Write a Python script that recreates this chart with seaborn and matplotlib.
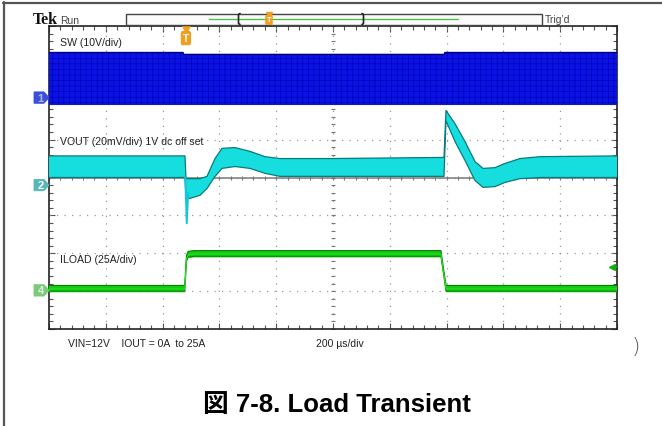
import numpy as np
import pandas as pd
import matplotlib
matplotlib.use("Agg")
import matplotlib.pyplot as plt
import seaborn as sns
from matplotlib.patches import Rectangle, Polygon
import matplotlib.transforms as mtransforms

# ---------------- data (units: screen divisions, 10 x 8 graticule) ----------------
# SW node (ch1): envelope of switching waveform
sw_t = [0.0, 2.36, 2.37, 6.96, 6.97, 10.0]
sw_top = [3.30, 3.30, 3.25, 3.25, 3.30, 3.30]
sw_bot = [1.93, 1.93, 1.93, 1.93, 1.93, 1.93]

# VOUT (ch2): ripple envelope (upper / lower)
vout_t = [0.0, 2.394, 2.412, 2.482, 2.658, 2.782, 2.923, 3.046, 3.275, 3.539,
          3.803, 4.067, 4.947, 6.954, 6.989, 7.148, 7.324, 7.500, 7.641, 7.852,
          8.028, 8.292, 8.644, 10.0]
vout_hi = [0.57, 0.57, -0.03, -0.03, -0.03, 0.03, 0.50, 0.77, 0.79, 0.69,
           0.55, 0.50, 0.50, 0.53, 1.77, 1.42, 0.95, 0.42, 0.24, 0.26,
           0.37, 0.50, 0.55, 0.57]
vout_lo = [0.0, 0.0, -0.55, -0.55, -0.47, -0.29, 0.03, 0.24, 0.29, 0.24,
           0.11, 0.03, 0.03, 0.03, 1.50, 0.95, 0.45, -0.08, -0.26, -0.24,
           -0.13, -0.03, 0.0, 0.0]
spike_t = [2.40, 2.425, 2.45]
spike_v = [0.0, -1.21, -0.40]

# ILOAD (ch4)
iload_t = [0.0, 2.39, 2.42, 2.45, 2.55, 6.90, 6.99, 10.0]
iload_v = [-2.94, -2.94, -2.15, -2.04, -2.02, -2.02, -2.94, -2.94]

ch_labels = ["1", "2", "4"]
ch_offsets = [2.11, -0.20, -2.98]
ch_colors = ["#3a4fe0", "#58b8b8", "#78cc78"]
ch_text_colors = ["#b8b8c8", "#ffffff", "#e8e8e8"]

trace_labels = ["SW (10V/div)", "VOUT (20mV/div) 1V dc off set", "ILOAD (25A/div)"]
trace_label_y = [3.58, 0.97, -2.14]

bottom_left = "VIN=12V    IOUT = 0A  to 25A"
bottom_mid = "200 \u00b5s/div"
title = "\u56f3 7-8. Load Transient"

# ---------------- figure ----------------
sns.set_style("white")
plt.rcParams['font.family'] = ['Liberation Sans', 'Noto Sans CJK JP', 'DejaVu Sans']
plt.rcParams['hatch.linewidth'] = 0.4

W, H = 662, 427
fig = plt.figure(figsize=(W / 100, H / 100), dpi=100)
fig.patch.set_facecolor("white")
ax = fig.add_axes([49 / W, 1 - 330 / H, 568 / W, 303 / H])
ax.set_xlim(0, 10)
ax.set_ylim(-4, 4)
ax.set_facecolor("white")

# graticule
for xv in range(1, 10):
    ax.axvline(xv, color="#9a9a9a", lw=0.9, ls=(0, (1, 5)), zorder=1)
for yv in range(-3, 4):
    ax.axhline(yv, color="#9a9a9a", lw=0.9, ls=(0, (1, 5)), zorder=1)
ax.axhline(0, color="#8c8c8c", lw=1.3, zorder=1.5)
ax.set_xticks(np.arange(0, 10.01, 1))
ax.set_yticks(np.arange(-4, 4.01, 1))
ax.set_xticks(np.arange(0, 10.01, 0.2), minor=True)
ax.set_yticks(np.arange(-4, 4.01, 0.2), minor=True)
ax.tick_params(which="both", direction="in", top=True, right=True, bottom=True, left=True,
               labelbottom=False, labelleft=False, color="#555555", width=0.8)
ax.tick_params(which="major", length=4)
ax.tick_params(which="minor", length=3)
# center crosshair ticks
cx = np.arange(0, 10.01, 0.2)
cy = np.arange(-4, 4.01, 0.2)
ax.scatter(cx, np.zeros_like(cx), marker="|", s=12, color="#777777", lw=0.8, zorder=1.6)
ax.scatter(np.full_like(cy, 5.0), cy, marker="_", s=12, color="#777777", lw=0.8, zorder=1.6)
for s in ax.spines.values():
    s.set_color("#222222")
    s.set_linewidth(1.2)

# SW trace
ax.fill_between(sw_t, sw_bot, sw_top, facecolor="#0a12e4", edgecolor="#0000b0",
                hatch="+++", linewidth=0, zorder=3)
sns.lineplot(x=sw_t, y=sw_top, ax=ax, color="#00007a", lw=1.0, zorder=4)
sns.lineplot(x=sw_t, y=sw_bot, ax=ax, color="#1020a0", lw=0.8, zorder=4)

# VOUT trace
ax.fill_between(vout_t, vout_lo, vout_hi, facecolor="#16dede", edgecolor="none", zorder=3)
sns.lineplot(x=vout_t, y=vout_hi, ax=ax, color="#0a7a7a", lw=0.9, zorder=4)
sns.lineplot(x=vout_t, y=vout_lo, ax=ax, color="#0a7a7a", lw=0.9, zorder=4)
sns.lineplot(x=spike_t, y=spike_v, ax=ax, color="#10c8d8", lw=1.4, zorder=4, sort=False)

# ILOAD trace
il = np.array(iload_v)
ax.fill_between(iload_t, il - 0.09, il + 0.09, facecolor="#12cc12", edgecolor="none", zorder=3)
sns.lineplot(x=iload_t, y=list(il + 0.09), ax=ax, color="#0a7a0a", lw=0.8, zorder=4)
sns.lineplot(x=iload_t, y=list(il - 0.06), ax=ax, color="#0a8a0a", lw=0.8, zorder=4)
sns.lineplot(x=iload_t, y=iload_v, ax=ax, color="#20e020", lw=0.8, zorder=4)

# trace labels
for lab, yv in zip(trace_labels, trace_label_y):
    ax.text(0.2, yv, lab, fontsize=7.6, color="#222222", va="center", ha="left", zorder=5)

# channel markers on the left (pentagon tags)
ptrans = mtransforms.blended_transform_factory(fig.dpi_scale_trans, ax.transData)
for lab, yv, c, tc in zip(ch_labels, ch_offsets, ch_colors, ch_text_colors):
    pts = [(0.34, yv - 0.15), (0.44, yv - 0.15), (0.49, yv), (0.44, yv + 0.15), (0.34, yv + 0.15)]
    ax.add_patch(Polygon(pts, closed=True, fc=c, ec=c, lw=0.6, transform=ptrans,
                         clip_on=False, zorder=6))
    ax.text(0.405, yv, lab, transform=ptrans, fontsize=8, color=tc, ha="center", va="center",
            fontweight="bold", clip_on=False, zorder=7)

# trigger marker at top
ax.plot([2.41], [3.91], marker="v", ms=6, color="#f0a020", clip_on=False, zorder=6)
ax.text(2.41, 3.68, "T", fontsize=7, color="white", fontweight="bold", ha="center", va="center",
        zorder=6, bbox=dict(boxstyle="round,pad=0.15", fc="#f0a020", ec="#f0a020"))
# level arrow at right
ax.plot([9.91], [-2.35], marker="<", ms=4, color="#10b010", zorder=6)
ax.plot([9.91, 10.0], [-2.35, -2.35], color="#10b010", lw=1.2, zorder=6)

# ---------------- overlay for decoration (pixel coordinates) ----------------
ov = fig.add_axes([0, 0, 1, 1], zorder=10)
ov.set_xlim(0, W)
ov.set_ylim(H, 0)
ov.axis("off")
ov.patch.set_alpha(0)
ov.plot([3.5, 3.5], [3, H], color="#555555", lw=1.6)
ov.plot([3, W], [3.5, 3.5], color="#555555", lw=1.6)

ov.text(33, 20, "Tek", fontsize=11.5, fontweight="bold", family="Liberation Serif",
        color="#111111", va="center", ha="left")
ov.text(60, 20.5, "Run", fontsize=7.5, color="#444444", va="center", ha="left")
ov.add_patch(Rectangle((125.5, 14.5), 416, 11, fc="#fbfbfb", ec="#444444", lw=1.0))
ov.plot([209, 458], [19.5, 19.5], color="#40c040", lw=0.9)
ov.plot([240, 238.5, 238.5, 240], [14.5, 15.5, 24.5, 25.5], color="#222222", lw=1.2)
ov.plot([362, 363.5, 363.5, 362], [14.5, 15.5, 24.5, 25.5], color="#222222", lw=1.2)
ov.plot([269], [15.5], marker="v", ms=4, color="#f0a020")
ov.text(269, 21, "T", fontsize=5.5, color="white", fontweight="bold", ha="center", va="center",
        bbox=dict(boxstyle="round,pad=0.1", fc="#f0a020", ec="#f0a020"))
ov.text(545, 20, "Trig\u2019d", fontsize=7.5, color="#444444", va="center", ha="left")

ov.text(68, 344, bottom_left, fontsize=7.5, color="#222222", va="center", ha="left")
ov.text(316, 344, bottom_mid, fontsize=7.5, color="#222222", va="center", ha="left")
ov.text(636, 347, ")", fontsize=16, color="#555555", va="center", ha="center",
        family="DejaVu Sans", fontweight="light")

ov.text(337, 405, title, fontsize=18.5, fontweight="bold", color="black", va="center", ha="center")

fig.savefig("out.png", dpi=100, facecolor="white")
